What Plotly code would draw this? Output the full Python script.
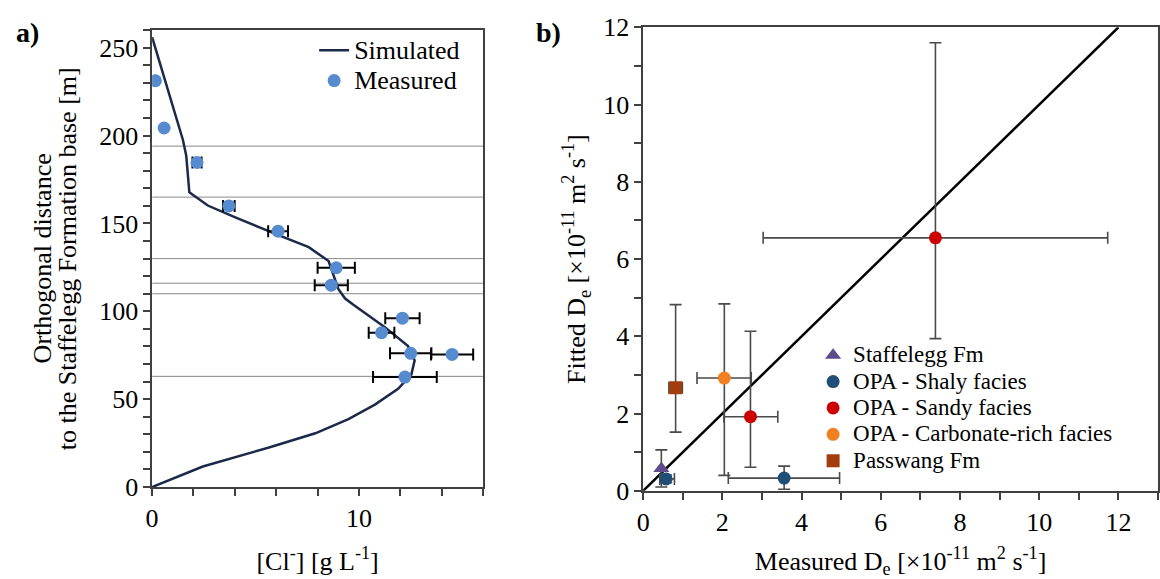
import plotly.graph_objects as go

# ---------------- Panel a) data ----------------
sim_cl = [0, 1.49, 1.65, 1.8, 2.69, 4.05, 6.29, 7.57, 8.53, 8.93, 9.0, 9.33, 9.73,
          11.25, 12.37, 12.69, 12.53, 11.89, 10.77, 9.49, 7.89, 5.65, 2.45, 0]
sim_z = [256, 197.5, 188.5, 167.7, 160.2, 153.3, 142.5, 136.5, 128.6, 114.5, 112.7, 107.3, 103.7,
         91, 80.2, 72.1, 64, 55.9, 46.9, 38.7, 30.6, 22.5, 11.7, 0]

meas_cl = [0.16, 0.58, 2.17, 3.71, 6.09, 8.9, 8.66, 12.1, 11.09, 12.5, 14.5, 12.22]
meas_z = [231.2, 204.3, 184.7, 160.0, 145.6, 124.8, 114.9, 96.1, 87.8, 76.1, 75.5, 62.6]
meas_err = [0, 0, 0.22, 0.28, 0.48, 0.9, 0.8, 0.83, 0.62, 1.0, 1.02, 1.54]

unit_boundaries = [194, 165, 130, 116, 110, 63]

# ---------------- Panel b) data ----------------
one_to_one = [0, 12]

staff_x = [0.46]; staff_y = [0.58]
staff_yerr = [0.48]

shaly_x = [0.58, 3.56]; shaly_y = [0.31, 0.33]
shaly_xerr_p = [0.21, 1.40]; shaly_xerr_m = [0.16, 1.41]
shaly_yerr_p = [0.1, 0.31]; shaly_yerr_m = [0.1, 0.29]

sandy_x = [7.38, 2.71]; sandy_y = [6.55, 1.92]
sandy_xerr_p = [4.35, 0.69]; sandy_xerr_m = [4.35, 0.67]
sandy_yerr_p = [5.05, 2.21]; sandy_yerr_m = [2.61, 1.31]

carb_x = [2.05]; carb_y = [2.92]
carb_xerr_p = [0.68]; carb_xerr_m = [0.69]
carb_yerr_p = [1.92]; carb_yerr_m = [2.52]

pass_x = [0.82]; pass_y = [2.67]
pass_xerr = [0.17]
pass_yerr_p = [2.15]; pass_yerr_m = [1.15]

left_names = ["Simulated", "Measured"]
right_names = ["Staffelegg Fm", "OPA - Shaly facies", "OPA - Sandy facies",
               "OPA - Carbonate-rich facies", "Passwang Fm"]
left_ytitle = ["Orthogonal distance", "to the Staffelegg Formation base [m]"]

FONT = "Liberation Serif, Times New Roman, serif"
AX = "#404040"
W, H = 1160, 579


def big(name, px):
    return '<span style="font-size:%dpx">%s</span>' % (px, name)


fig = go.Figure()

# Panel a
fig.add_trace(go.Scatter(x=sim_cl, y=sim_z, mode="lines", name=big(left_names[0], 26),
                         line=dict(color="#1c2a4a", width=2.5),
                         xaxis="x", yaxis="y", legend="legend"))
fig.add_trace(go.Scatter(x=meas_cl, y=meas_z, mode="markers", name=big(left_names[1], 26),
                         marker=dict(color="#568bcf", size=13),
                         error_x=dict(type="data", array=meas_err, color="black",
                                      thickness=2, width=6),
                         xaxis="x", yaxis="y", legend="legend"))

# Panel b
fig.add_trace(go.Scatter(x=one_to_one, y=one_to_one, mode="lines", showlegend=False,
                         line=dict(color="black", width=2.5), xaxis="x2", yaxis="y2"))

ebar = dict(color="#4a4a4a", thickness=1.6, width=6)

fig.add_trace(go.Scatter(x=staff_x, y=staff_y, mode="markers", name=big(right_names[0], 23),
                         marker=dict(color="#5f4b8b", size=14, symbol="triangle-up"),
                         error_y=dict(type="data", array=staff_yerr, **ebar),
                         xaxis="x2", yaxis="y2", legend="legend2"))
fig.add_trace(go.Scatter(x=shaly_x, y=shaly_y, mode="markers", name=big(right_names[1], 23),
                         marker=dict(color="#1f4e79", size=13),
                         error_x=dict(type="data", symmetric=False, array=shaly_xerr_p,
                                      arrayminus=shaly_xerr_m, **ebar),
                         error_y=dict(type="data", symmetric=False, array=shaly_yerr_p,
                                      arrayminus=shaly_yerr_m, **ebar),
                         xaxis="x2", yaxis="y2", legend="legend2"))
fig.add_trace(go.Scatter(x=sandy_x, y=sandy_y, mode="markers", name=big(right_names[2], 23),
                         marker=dict(color="#cc0000", size=13),
                         error_x=dict(type="data", symmetric=False, array=sandy_xerr_p,
                                      arrayminus=sandy_xerr_m, **ebar),
                         error_y=dict(type="data", symmetric=False, array=sandy_yerr_p,
                                      arrayminus=sandy_yerr_m, **ebar),
                         xaxis="x2", yaxis="y2", legend="legend2"))
fig.add_trace(go.Scatter(x=carb_x, y=carb_y, mode="markers", name=big(right_names[3], 23),
                         marker=dict(color="#f28022", size=13),
                         error_x=dict(type="data", symmetric=False, array=carb_xerr_p,
                                      arrayminus=carb_xerr_m, **ebar),
                         error_y=dict(type="data", symmetric=False, array=carb_yerr_p,
                                      arrayminus=carb_yerr_m, **ebar),
                         xaxis="x2", yaxis="y2", legend="legend2"))
fig.add_trace(go.Scatter(x=pass_x, y=pass_y, mode="markers", name=big(right_names[4], 23),
                         marker=dict(color="#a33c0c", size=13, symbol="square"),
                         error_x=dict(type="data", array=pass_xerr, **ebar),
                         error_y=dict(type="data", symmetric=False, array=pass_yerr_p,
                                      arrayminus=pass_yerr_m, **ebar),
                         xaxis="x2", yaxis="y2", legend="legend2"))

shapes = [dict(type="line", xref="x", yref="y", x0=0, x1=16, y0=b, y1=b,
               line=dict(color="#8a8a8a", width=1), layer="below") for b in unit_boundaries]

axis_common = dict(showline=True, linecolor=AX, linewidth=1.5, mirror=True,
                   showgrid=False, zeroline=False, ticks="outside", ticklen=7,
                   tickcolor=AX, tickwidth=1.5,
                   tickfont=dict(family=FONT, size=26, color="black"))
minor_common = dict(ticks="outside", ticklen=7, tickcolor=AX, tickwidth=1.5)

ya_mid = 1 - ((17 + 498) / 2) / H

annotations = [
    dict(text="<b>a)</b>", x=7 / W, y=1 - 1 / H, xref="paper", yref="paper",
         xanchor="left", yanchor="top", showarrow=False,
         font=dict(family=FONT, size=28)),
    dict(text="<b>b)</b>", x=530 / W, y=1 - 1 / H, xref="paper", yref="paper",
         xanchor="left", yanchor="top", showarrow=False,
         font=dict(family=FONT, size=28)),
]
for txt, xc in zip(left_ytitle, [36, 61]):
    annotations.append(dict(text=txt, x=xc / W, y=ya_mid, xref="paper", yref="paper",
                            xanchor="center", yanchor="middle", textangle=-90,
                            showarrow=False, font=dict(family=FONT, size=26)))

fig.update_layout(
    width=W, height=H, margin=dict(l=0, r=0, t=0, b=0),
    paper_bgcolor="white", plot_bgcolor="white",
    font=dict(family=FONT, color="black"),
    showlegend=True,
    xaxis=dict(domain=[146 / W, 479 / W], range=[0, 16], dtick=10, anchor="y",
               minor=dict(dtick=2, **minor_common),
               title=dict(text="[Cl<sup>-</sup>] [g L<sup>-1</sup>]",
                          font=dict(family=FONT, size=26), standoff=20),
               **axis_common),
    yaxis=dict(domain=[1 - 498 / H, 1 - 17 / H], range=[0, 260], dtick=50, anchor="x",
               minor=dict(dtick=10, **minor_common),
               **axis_common),
    xaxis2=dict(domain=[640 / W, 1158 / W], range=[0, 13], dtick=2, anchor="y2",
                minor=dict(dtick=1, **minor_common),
                title=dict(text="Measured D<sub>e</sub> [×10<sup>-11</sup> m<sup>2</sup> s<sup>-1</sup>]",
                           font=dict(family=FONT, size=26), standoff=17),
                **axis_common),
    yaxis2=dict(domain=[1 - 502 / H, 1 - 14 / H], range=[0, 12], dtick=2, anchor="x2",
                minor=dict(dtick=1, **minor_common),
                title=dict(text="Fitted D<sub>e</sub> [×10<sup>-11</sup> m<sup>2</sup> s<sup>-1</sup>]",
                           font=dict(family=FONT, size=26), standoff=10),
                **axis_common),
    legend=dict(x=309 / W, y=1 - 17 / H, xanchor="left", yanchor="top",
                bgcolor="rgba(255,255,255,0)", font=dict(family=FONT, size=21),
                tracegroupgap=0),
    legend2=dict(x=811 / W, y=1 - 340 / H, xanchor="left", yanchor="top",
                 bgcolor="rgba(255,255,255,0)", font=dict(family=FONT, size=18),
                 tracegroupgap=0),
    shapes=shapes,
    annotations=annotations,
)

fig.write_html("out.html", config={"displayModeBar": False},
               post_script="document.body.style.margin='0';document.body.style.overflow='hidden';")
